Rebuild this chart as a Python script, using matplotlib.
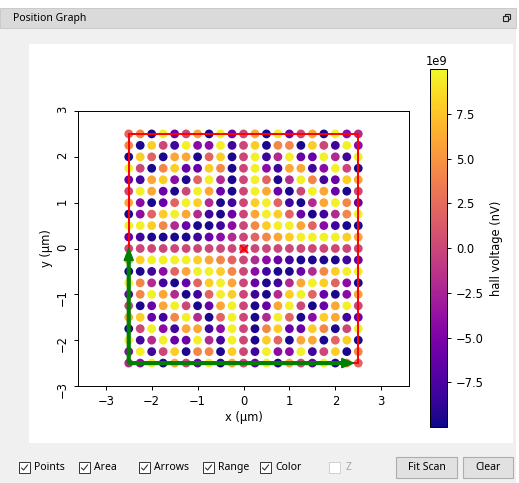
import matplotlib
matplotlib.use("Agg")
import matplotlib.pyplot as plt
import numpy as np
from matplotlib.colors import Normalize
from matplotlib.patches import Rectangle

# --- scan data ---
x_um = [-2.5, -2.25, -2.0, -1.75, -1.5, -1.25, -1.0, -0.75, -0.5, -0.25, 0.0,
        0.25, 0.5, 0.75, 1.0, 1.25, 1.5, 1.75, 2.0, 2.25, 2.5]
y_um = [2.5, 2.25, 2.0, 1.75, 1.5, 1.25, 1.0, 0.75, 0.5, 0.25, 0.0,
        -0.25, -0.5, -0.75, -1.0, -1.25, -1.5, -1.75, -2.0, -2.25, -2.5]

# colour level of every dot, in units of 1e9 nV
level_1e9 = {"N": -9.6, "I": -8.0, "P": -6.0, "M": -4.2, "m": -2.0, "K": 0.0,
             "s": 2.0, "S": 4.2, "O": 6.0, "G": 8.0, "L": 9.6}

# one string per row, top (y=2.5) to bottom (y=-2.5), left to right in x
voltage_rows = [
    "sSNLPKONLPKONLPKONLMm",
    "SNGKILMMLIKGNSSNGKILM",
    "NGsNOONsGNKLImLPPLmIL",
    "LKNSGPPGSNKLMIOOIMLKN",
    "PIOGMNsLmNKLsNmLSIPGO",
    "KLOPNKLOPNKLOPNKLOPNK",
    "OMNPsLGmNIKGLsINmOLSP",
    "NMsGLOmINPKOLGsPNImSL",
    "LLGSmPNNIMKSGLLOsMINN",
    "PINNNNIPMmKsSOGLLLLGO",
    "KKKKKKKKKKKKKKKKKKKKK",
    "OGLLLLGOSsKmMPINNNNIP",
    "NNIMsOLLGSKMINNPmSGLL",
    "LSmINPsGLOKPNImOLGsMN",
    "PSLOmNIsLGKINmGLsPNMO",
    "KNPOLKNPOLKNPOLKNPOLK",
    "OGPISLmNsLKNmLsNMGOIP",
    "NKLMIOOIMLKNSGPPGSNKL",
    "LImLPPLmILKNGsNOONsGN",
    "MLIKGNSSNGKILMMLIKGNS",
    "mMLNOKPLNOKPLNOKPLNSs",
]

scan_range = (-2.5, -2.5, 5.0, 5.0)   # x0, y0, width, height
center = (0.0, 0.0)

W, H = 519, 483
fig = plt.figure(figsize=(W / 100, H / 100), dpi=100, facecolor="white")

# --- Qt window chrome, in pixel coordinates ---
bg = fig.add_axes([0, 0, 1, 1], zorder=0)
bg.set_xlim(0, W)
bg.set_ylim(H, 0)
bg.axis("off")
ui_font = "Noto Sans"
ui_size = 7.5

bg.add_patch(Rectangle((0, 28), 516, H - 28, fc="#f0f0f0", ec="none"))
bg.add_patch(Rectangle((0, 8), 516, 20, fc="#dadada", ec="#c4c4c4", lw=0.6))
bg.text(13, 18.5, "Position Graph", fontsize=ui_size, family=ui_font, va="center", ha="left")
bg.add_patch(Rectangle((504.5, 13.5), 5, 5, fc="none", ec="#222222", lw=0.8))
bg.add_patch(Rectangle((502.5, 16), 5, 5, fc="#dadada", ec="#222222", lw=0.8))
bg.add_patch(Rectangle((29, 44), 484, 399, fc="white", ec="none"))

checkboxes = [("Points", 19, True), ("Area", 79, True), ("Arrows", 139, True),
              ("Range", 203, True), ("Color", 260, True), ("Z", 329, False)]
for label, bx, enabled in checkboxes:
    edge = "#333333" if enabled else "#d0d0d0"
    bg.add_patch(Rectangle((bx, 462), 11, 11, fc="white", ec=edge, lw=0.7))
    if enabled:
        bg.plot([bx + 2.2, bx + 4.6, bx + 8.8], [467.6, 470.0, 464.6],
                color="#333333", lw=0.8, solid_capstyle="butt")
    bg.text(bx + (17 if label == "Z" else 15), 467.5, label, fontsize=ui_size, family=ui_font,
            va="center", ha="left", color="#000000" if enabled else "#a8a8a8")

for label, bx, bw in [("Fit Scan", 396, 61), ("Clear", 463, 50)]:
    bg.add_patch(Rectangle((bx, 457), bw, 21, fc="#e1e1e1", ec="#adadad", lw=0.8))
    bg.text(bx + bw / 2, 467.5, label, fontsize=ui_size, family=ui_font, va="center", ha="center")

# --- the position graph ---
plt.rcParams["font.size"] = 8.3
ax = fig.add_axes([78 / W, 1 - 386 / H, 331 / W, 275 / H], zorder=1)
cax = fig.add_axes([430 / W, 1 - 427 / H, 17 / W, 358 / H], zorder=1)

X, Y = np.meshgrid(x_um, y_um)
V = np.array([[level_1e9[c] for c in row] for row in voltage_rows]) * 1e9

sc = ax.scatter(X.ravel(), Y.ravel(), c=V.ravel(), cmap="plasma",
                norm=Normalize(-1e10, 1e10), s=40, linewidths=0, zorder=2)

x0, y0, w, h = scan_range
ax.add_patch(Rectangle((x0, y0), w, h, fill=False, edgecolor="red", lw=1.4, zorder=3))
ax.arrow(x0, y0, w - 0.1, 0, width=0.06, head_width=0.2, head_length=0.26,
         length_includes_head=True, color="green", zorder=4)
ax.arrow(x0, y0, 0, h / 2, width=0.06, head_width=0.2, head_length=0.26,
         length_includes_head=True, color="green", zorder=4)
ax.plot(*center, "x", color="red", ms=6, mew=1.5, zorder=5)

ax.set_xlim(-3.605, 3.605)
ax.set_ylim(-3, 3)
ax.set_xticks([-3, -2, -1, 0, 1, 2, 3])
ax.set_yticks([-3, -2, -1, 0, 1, 2, 3])
ax.tick_params(axis="y", labelrotation=90)
ax.tick_params(length=3, width=0.7)
for sp in ax.spines.values():
    sp.set_linewidth(0.7)
ax.set_xlabel("x (µm)", labelpad=2)
ax.set_ylabel("y (µm)", labelpad=2)

cb = fig.colorbar(sc, cax=cax)
cb.set_ticks([-7.5e9, -5e9, -2.5e9, 0, 2.5e9, 5e9, 7.5e9])
cb.ax.tick_params(length=3, width=0.7)
cb.outline.set_linewidth(0.7)
cb.set_label("hall voltage (nV)", labelpad=4)

fig.savefig("out.png", dpi=100)
